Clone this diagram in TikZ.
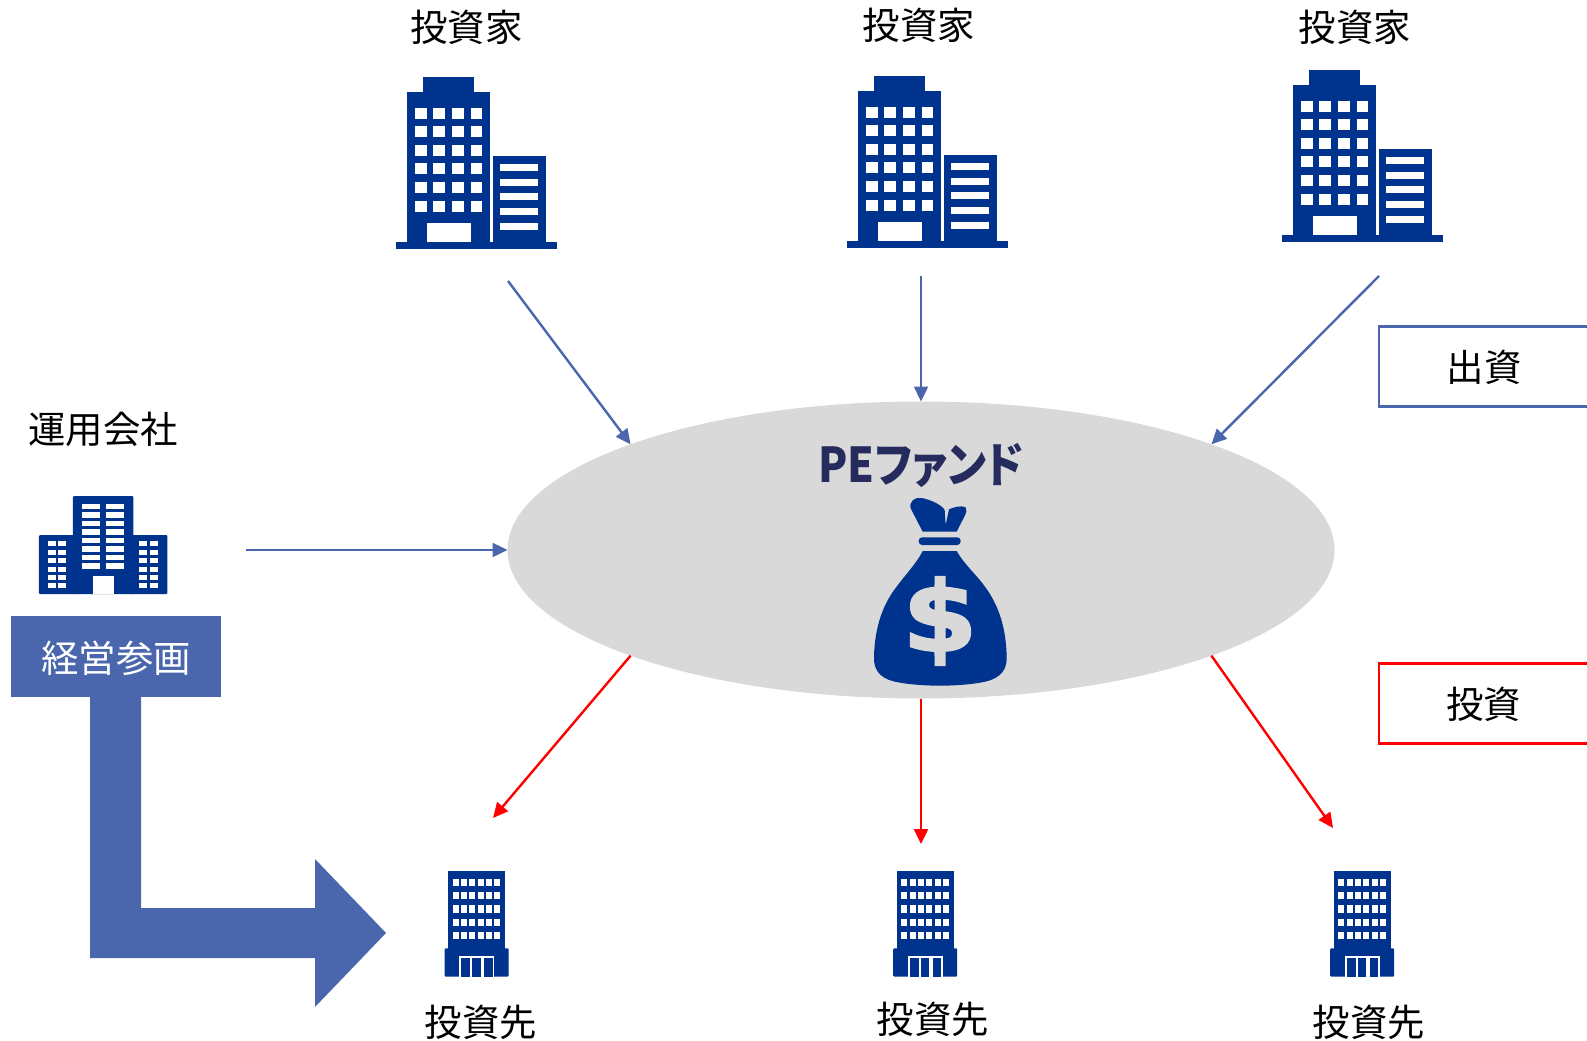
\documentclass[tikz,border=0pt]{standalone}
\usepackage{graphicx}
\usepackage{fontspec}
\setmainfont{Noto Sans CJK JP}
\newfontfamily\titlefont{Noto Sans CJK JP}[RawFeature={+palt}]
\newfontfamily\dollarfont{DejaVu Sans Bold}[FakeBold=2.5]
\usetikzlibrary{arrows.meta,shapes.geometric}
\definecolor{navy}{RGB}{0,51,141}
\definecolor{linkblue}{RGB}{74,102,172}
\definecolor{fundgray}{RGB}{217,217,217}
\definecolor{titleink}{RGB}{37,43,92}
\definecolor{linkred}{RGB}{255,0,0}
\tikzset{
  label36/.style={font=\fontsize{37.4}{42}\selectfont,text=black,inner sep=0pt},
  bluelink/.style={draw=linkblue,line width=2.4pt,-{Triangle[length=15pt,width=14pt]}},
  redlink/.style={draw=linkred,line width=2.4pt,-{Triangle[length=15pt,width=14pt]}},
  legendbox/.style={draw,line width=2.2pt,fill=white,minimum width=212pt,minimum height=80pt,inner sep=0pt},
  bigbuilding/.pic={
    \begin{scope}[x=0.33333pt,y=-0.33333pt]
      \fill[navy] (48,546) rectangle (530,566);
      \fill[navy] (82,95) rectangle (330,550);
      \fill[navy] (128,50) rectangle (282,95);
      \fill[navy] (340,288) rectangle (497,550);
      \foreach \cx in {105,160,217,272}
        \foreach \cy in {143,198,254,310,367,423}
          \fill[white] (\cx,\cy) rectangle +(35,33);
      \fill[white] (140,490) rectangle (272,546);
      \foreach \cy in {311,356,400,445,490}
        \fill[white] (361,\cy) rectangle +(112,21);
    \end{scope}
  },
  smallbuilding/.pic={
    \begin{scope}[x=0.33333pt,y=-0.33333pt]
      \fill[navy] (84,33) rectangle (256,270);
      \fill[navy,rounded corners=1pt] (74,265) rectangle (266,350);
      \foreach \cx in {98,123,148,173,198,223}
        \foreach \cy in {56,96,136,176,216}
          \fill[white] (\cx,\cy) rectangle +(18,22);
      \fill[white] (118,288) rectangle (222,350);
      \foreach \cx in {124,156,192}
        \fill[navy] (\cx,294) rectangle +(26,56);
    \end{scope}
  },
  towerbuilding/.pic={
    \begin{scope}[x=0.33333pt,y=-0.33333pt]
      \fill[navy,rounded corners=1pt] (219,48) rectangle (400,342);
      \fill[navy,rounded corners=1pt] (117,165) rectangle (230,342);
      \fill[navy,rounded corners=1pt] (390,165) rectangle (502,342);
      \foreach \cx in {245,319}
        \foreach \cy in {71,97,122,148,174,199,225,250}
          \fill[white] (\cx,\cy) rectangle +(54,16);
      \foreach \cx in {143,175,418,451}
        \foreach \cy in {184,209,235,260,285,309}
          \fill[white] (\cx,\cy) rectangle +(24,15);
      \fill[white] (278,288) rectangle (341,342);
    \end{scope}
  },
  moneybag/.pic={
    \begin{scope}[x=0.33333pt,y=-0.33333pt]
      \fill[navy] (368,305) -- (332,235) .. controls (326,215) and (345,200) .. (365,204)
        .. controls (395,210) and (425,225) .. (434,240) -- (437,285) -- (447,238)
        .. controls (465,230) and (485,226) .. (497,232) .. controls (502,240) and (498,250) .. (495,256)
        -- (470,305) -- cycle;
      \fill[navy,rounded corners=3.5pt] (356,322) rectangle (482,345);
      \fill[navy] (368,363) -- (470,363) .. controls (490,400) and (530,435) .. (555,470)
        .. controls (595,525) and (618,590) .. (620,680)
        .. controls (622,730) and (590,750) .. (540,758)
        .. controls (470,770) and (370,770) .. (300,758)
        .. controls (250,750) and (220,730) .. (222,680)
        .. controls (224,590) and (250,520) .. (290,470)
        .. controls (315,435) and (350,400) .. (368,363) -- cycle;
    \end{scope}
  }
}
\begin{document}
\begin{tikzpicture}[x=1pt,y=-1pt]
\useasboundingbox (0,0) rectangle (1587,1041);
% fund
\node[ellipse,fill=fundgray,minimum width=827pt,minimum height=297pt,inner sep=0pt,outer sep=0pt] (fund) at (921,550) {};
\pic (bag) at (800,430) {moneybag};
\node[font=\dollarfont\fontsize{97}{97}\selectfont,text=fundgray,inner sep=0pt] (dollar) at (940,621) {\scalebox{1.1}[1]{\$}};
\node[font=\titlefont\bfseries\fontsize{48}{52}\selectfont,text=titleink,inner sep=0pt] (fundtitle) at (921,466) {\scalebox{0.89}[1]{PEファンド}};
% investors
\pic (inva) at (380,60) {bigbuilding};
\pic (invb) at (831,59) {bigbuilding};
\pic (invc) at (1266,53) {bigbuilding};
\node[label36] (invlabela) at (466.5,27.5) {投資家};
\node[label36] (invlabelb) at (919,25.5) {投資家};
\node[label36] (invlabelc) at (1355,27.5) {投資家};
% operator
\pic (oper) at (0,480) {towerbuilding};
\node[label36] (operlabel) at (103,429.5) {運用会社};
% targets
\pic (tga) at (420,860) {smallbuilding};
\pic (tgb) at (868.5,860) {smallbuilding};
\pic (tgc) at (1305.5,860) {smallbuilding};
\node[label36] (tglabela) at (481,1022) {投資先};
\node[label36] (tglabelb) at (933,1019) {投資先};
\node[label36] (tglabelc) at (1369,1022) {投資先};
% thick arrow
\fill[linkblue] (90,690) -- (141,690) -- (141,908) -- (315,908) -- (315,859) -- (386,933) -- (315,1007) -- (315,958) -- (90,958) -- cycle;
\node[fill=linkblue,text=white,minimum width=210pt,minimum height=81pt,inner sep=0pt,font=\fontsize{37.4}{42}\selectfont,text depth=0pt] (mgmt) at (116,656.5) {経営参画};
% legend
\node[legendbox,draw=linkblue,anchor=west] (legendin) at (1377.5,366.5) {};
\node[label36] (legendintext) at (1484,367) {出資};
\node[legendbox,draw=linkred,anchor=west] (legendout) at (1377.5,703.5) {};
\node[label36] (legendouttext) at (1483.5,704) {投資};
% connector ends
\coordinate (sa) at (508,281);
\coordinate (sb) at (921,276);
\coordinate (sc) at (1379,276);
\coordinate (so) at (246,550);
\coordinate (ea) at (493,818);
\coordinate (eb) at (921,844);
\coordinate (ec) at (1333,828);
\draw[bluelink] (sa) -- (fund.160);
\draw[bluelink] (sb) -- (fund.north);
\draw[bluelink] (sc) -- (fund.20);
\draw[bluelink] (so) -- (fund.west);
\draw[redlink] (fund.200) -- (ea);
\draw[redlink] (fund.south) -- (eb);
\draw[redlink] (fund.340) -- (ec);
\end{tikzpicture}
\end{document}
